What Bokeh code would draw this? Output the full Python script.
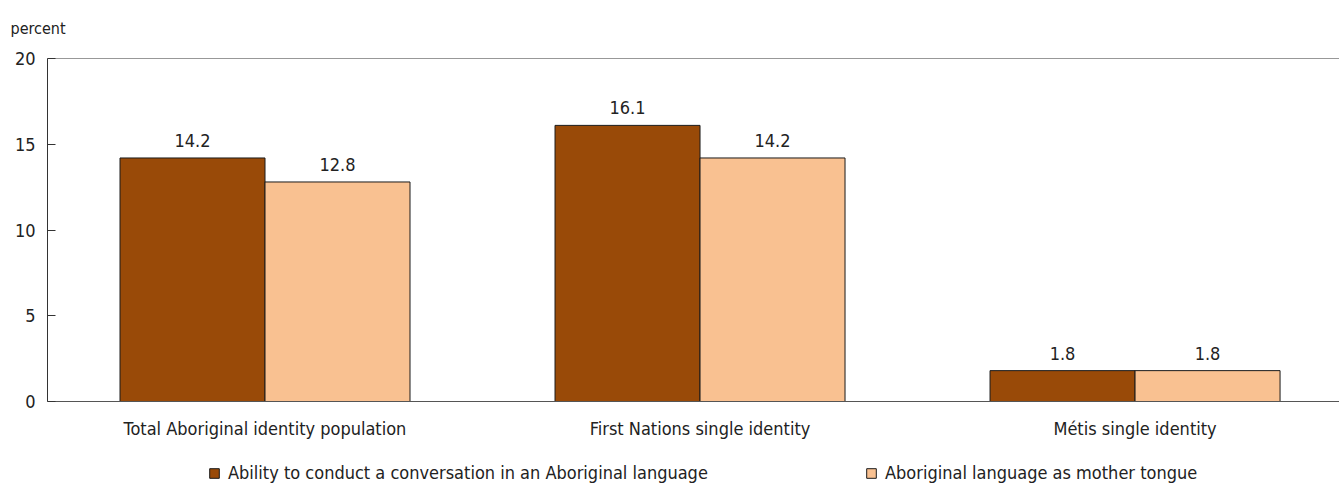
from bokeh.plotting import figure
from bokeh.layouts import column
from bokeh.models import ColumnDataSource, Range1d, FixedTicker, LabelSet, Legend, LegendItem, Span
from bokeh.core.properties import value
from bokeh.embed import file_html
from bokeh.resources import INLINE

categories = ["Total Aboriginal identity population", "First Nations single identity", "Métis single identity"]
conversation = [14.2, 16.1, 1.8]
mother_tongue = [12.8, 14.2, 1.8]
series_names = ["Ability to conduct a conversation in an Aboriginal language", "Aboriginal language as mother tongue"]
y_ticks = [0, 5, 10, 15, 20]

FONT = "DejaVu Sans Condensed"
TXT = "#222222"
DARK = "#994a08"
LIGHT = "#f9c191"
EDGE = "#1a1a1a"

centers = [i + 0.5 for i in range(len(categories))]
bw = 1 / 3
src1 = ColumnDataSource(dict(x=[c - bw / 2 for c in centers], top=conversation,
                             lab=[f"{v:.1f}" for v in conversation]))
src2 = ColumnDataSource(dict(x=[c + bw / 2 for c in centers], top=mother_tongue,
                             lab=[f"{v:.1f}" for v in mother_tongue]))

p = figure(width=1339, height=450, output_backend="svg", toolbar_location=None,
           x_range=Range1d(0, 2.970), y_range=Range1d(0, 20),
           min_border_left=47, min_border_right=0, min_border_top=57, min_border_bottom=49)
p.title.text = "percent"
p.title.text_font = FONT
p.title.text_font_size = "16px"
p.title.text_font_style = "normal"
p.title.text_color = TXT
p.title.align = "left"
p.title.vertical_align = "top"
p.title.offset = -37
p.title.standoff = 37

r1 = p.vbar(x="x", top="top", width=bw, source=src1, fill_color=DARK, line_color=EDGE, line_width=1)
r2 = p.vbar(x="x", top="top", width=bw, source=src2, fill_color=LIGHT, line_color=EDGE, line_width=1)

for s in (src1, src2):
    p.add_layout(LabelSet(x="x", y="top", text="lab", source=s, text_align="center",
                          text_baseline="bottom", y_offset=11, text_font=value(FONT),
                          text_font_size="18px", text_color=TXT))

p.outline_line_color = None
p.add_layout(Span(location=20, dimension="width", line_color="#333333", line_width=1))
p.xgrid.grid_line_color = None
p.ygrid.grid_line_color = None

p.yaxis.ticker = FixedTicker(ticks=y_ticks)
p.yaxis.major_tick_in = 8
p.yaxis.major_tick_out = 0
p.yaxis.minor_tick_line_color = None
p.yaxis.axis_line_color = "#333333"
p.yaxis.major_tick_line_color = "#333333"
p.yaxis.major_label_text_font = FONT
p.yaxis.major_label_text_font_size = "18px"
p.yaxis.major_label_text_color = TXT
p.yaxis.major_label_standoff = 12

p.xaxis.ticker = FixedTicker(ticks=centers)
p.xaxis.major_label_overrides = {c: n for c, n in zip(centers, categories)}
p.xaxis.major_tick_in = 0
p.xaxis.major_tick_out = 0
p.xaxis.minor_tick_line_color = None
p.xaxis.axis_line_color = "#555555"
p.xaxis.major_label_text_font = FONT
p.xaxis.major_label_text_font_size = "18px"
p.xaxis.major_label_text_color = TXT
p.xaxis.major_label_standoff = 16

# legend strip (its frame is aligned with the main plot's frame, left edge at 47 px)
lg = figure(width=1339, height=33, output_backend="svg", toolbar_location=None,
            x_range=Range1d(0, 1), y_range=Range1d(0, 1),
            x_axis_location=None, y_axis_location=None,
            min_border_left=0, min_border_right=0, min_border_top=0, min_border_bottom=0)
lg.outline_line_color = None
lg.xgrid.grid_line_color = None
lg.ygrid.grid_line_color = None
hidden = dict(x=[0.5], top=[-9.0], bottom=[-10.0])
g1 = lg.vbar(x="x", top="top", bottom="bottom", width=0.1, source=ColumnDataSource(hidden),
             fill_color=DARK, line_color=EDGE)
g2 = lg.vbar(x="x", top="top", bottom="bottom", width=0.1, source=ColumnDataSource(hidden),
             fill_color=LIGHT, line_color=EDGE)
for r, name, xpos in ((g1, series_names[0], 161), (g2, series_names[1], 818)):
    lg.add_layout(Legend(items=[LegendItem(label=name, renderers=[r])],
                         location=(xpos, 0), glyph_width=12, glyph_height=12, label_standoff=8,
                         label_text_font=FONT, label_text_font_size="18px", label_text_color=TXT,
                         border_line_color=None, background_fill_alpha=0, padding=0, margin=0))

open("out.html", "w").write(file_html(column(p, lg, spacing=0), INLINE))
